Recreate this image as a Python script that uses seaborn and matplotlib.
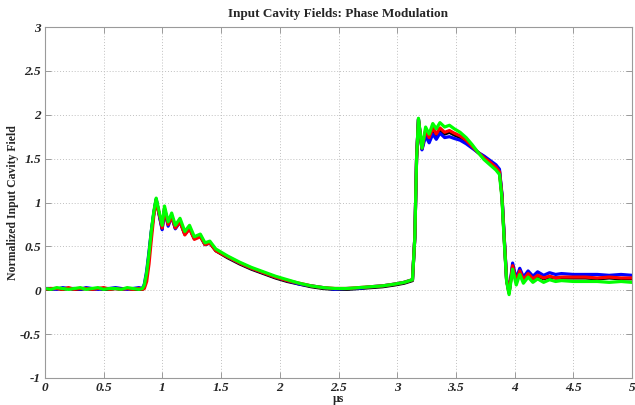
import numpy as np
import pandas as pd
import matplotlib
matplotlib.use("Agg")
import matplotlib.pyplot as plt
import seaborn as sns

# time axis (µs)
t = [0.00, 0.05, 0.10, 0.15, 0.20, 0.25, 0.30, 0.35, 0.40, 0.45, 0.50, 0.55, 0.60, 0.65, 0.70, 0.75, 0.80, 0.83,
     0.846, 0.866, 0.886, 0.906, 0.927, 0.947, 0.978, 0.998, 1.018, 1.049, 1.079, 1.110, 1.150, 1.191, 1.231, 1.272,
     1.323, 1.363, 1.404, 1.455,
     1.556, 1.658, 1.759, 1.861, 1.963, 2.064, 2.166, 2.267, 2.369, 2.470, 2.572, 2.673, 2.775, 2.876, 2.978, 3.059, 3.130,
     3.150, 3.165, 3.181, 3.211, 3.242, 3.272, 3.303, 3.333, 3.364, 3.404, 3.445, 3.486, 3.536, 3.587, 3.638, 3.689,
     3.739, 3.790, 3.841, 3.871,
     3.892, 3.912, 3.932, 3.953, 3.983, 4.014, 4.044, 4.075, 4.115, 4.156, 4.196, 4.247, 4.298, 4.349, 4.399, 4.501,
     4.603, 4.704, 4.806, 4.907, 5.00]

black = [0.01, 0.01, 0.02, 0.01, 0.02, 0.01, 0.01, 0.02, 0.01, 0.02, 0.01, 0.01, 0.02, 0.01, 0.02, 0.01, 0.01, 0.01,
         0.04, 0.18, 0.40, 0.66, 0.88, 1.03, 0.83, 0.70, 0.93, 0.75, 0.85, 0.71, 0.79, 0.64, 0.71, 0.59, 0.62, 0.52, 0.54, 0.45,
         0.37, 0.30, 0.24, 0.19, 0.14, 0.10, 0.07, 0.04, 0.02, 0.01, 0.01, 0.02, 0.03, 0.04, 0.06, 0.08, 0.11,
         0.60, 1.50, 1.95, 1.61, 1.80, 1.72, 1.83, 1.76, 1.83, 1.78, 1.80, 1.77, 1.74, 1.69, 1.63, 1.57, 1.52, 1.47, 1.41, 1.36,
         1.08, 0.58, 0.11, -0.03, 0.27, 0.10, 0.21, 0.12, 0.18, 0.13, 0.16, 0.13, 0.15, 0.14, 0.14, 0.14, 0.14, 0.13, 0.14, 0.13, 0.13]

blue = [0.02, 0.02, 0.01, 0.03, 0.02, 0.02, 0.01, 0.03, 0.02, 0.01, 0.02, 0.02, 0.03, 0.02, 0.01, 0.02, 0.03, 0.02,
        0.07, 0.22, 0.44, 0.68, 0.88, 1.04, 0.82, 0.69, 0.92, 0.73, 0.84, 0.70, 0.78, 0.64, 0.71, 0.59, 0.62, 0.52, 0.54, 0.46,
        0.38, 0.31, 0.25, 0.20, 0.15, 0.11, 0.07, 0.05, 0.03, 0.01, 0.02, 0.02, 0.04, 0.05, 0.07, 0.09, 0.12,
        0.60, 1.50, 1.95, 1.60, 1.76, 1.68, 1.78, 1.72, 1.79, 1.74, 1.75, 1.73, 1.71, 1.67, 1.62, 1.57, 1.53, 1.48, 1.43, 1.38,
        1.10, 0.60, 0.12, -0.02, 0.31, 0.13, 0.25, 0.15, 0.22, 0.16, 0.21, 0.17, 0.20, 0.18, 0.19, 0.18, 0.18, 0.18, 0.17, 0.18, 0.17]

red = [0.01, 0.02, 0.02, 0.01, 0.03, 0.01, 0.02, 0.02, 0.01, 0.02, 0.03, 0.01, 0.02, 0.01, 0.02, 0.01, 0.02, 0.01,
       0.02, 0.10, 0.30, 0.58, 0.85, 1.02, 0.84, 0.71, 0.92, 0.75, 0.84, 0.71, 0.78, 0.63, 0.70, 0.58, 0.61, 0.52, 0.54, 0.45,
       0.38, 0.31, 0.25, 0.20, 0.15, 0.11, 0.08, 0.05, 0.03, 0.02, 0.02, 0.03, 0.04, 0.05, 0.07, 0.09, 0.12,
       0.60, 1.50, 1.94, 1.62, 1.82, 1.74, 1.85, 1.78, 1.85, 1.80, 1.82, 1.79, 1.76, 1.71, 1.64, 1.57, 1.51, 1.46, 1.40, 1.35,
       1.08, 0.58, 0.12, -0.03, 0.28, 0.10, 0.22, 0.12, 0.19, 0.13, 0.17, 0.14, 0.16, 0.14, 0.15, 0.15, 0.15, 0.14, 0.15, 0.14, 0.14]

green = [0.02, 0.01, 0.03, 0.02, 0.01, 0.02, 0.03, 0.01, 0.02, 0.03, 0.01, 0.02, 0.02, 0.01, 0.03, 0.02, 0.01, 0.02,
         0.06, 0.20, 0.42, 0.68, 0.90, 1.05, 0.86, 0.74, 0.96, 0.78, 0.88, 0.74, 0.82, 0.67, 0.74, 0.61, 0.64, 0.54, 0.56, 0.47,
         0.39, 0.32, 0.26, 0.21, 0.16, 0.12, 0.08, 0.05, 0.03, 0.02, 0.02, 0.03, 0.04, 0.05, 0.07, 0.09, 0.12,
         0.60, 1.50, 1.96, 1.62, 1.86, 1.78, 1.90, 1.84, 1.91, 1.86, 1.88, 1.84, 1.80, 1.74, 1.66, 1.57, 1.49, 1.43, 1.37, 1.32,
         1.05, 0.55, 0.10, -0.05, 0.24, 0.06, 0.18, 0.08, 0.15, 0.09, 0.13, 0.09, 0.12, 0.10, 0.11, 0.10, 0.10, 0.10, 0.09, 0.10, 0.09]

traces = ["black", "blue", "red", "green"]
colors = {"black": "#000000", "blue": "#0000ff", "red": "#ff0000", "green": "#00ff00"}

xticks = [0, 0.5, 1, 1.5, 2, 2.5, 3, 3.5, 4, 4.5, 5]
xticklabels = ["0", "0.5", "1", "1.5", "2", "2.5", "3", "3.5", "4", "4.5", "5"]
yticks = [-1, -0.5, 0, 0.5, 1, 1.5, 2, 2.5, 3]
yticklabels = ["-1", "-0.5", "0", "0.5", "1", "1.5", "2", "2.5", "3"]

df = pd.concat([
    pd.DataFrame({"t": t, "v": vals, "trace": name})
    for name, vals in zip(traces, [black, blue, red, green])
], ignore_index=True)

sns.set_theme(style="white")
plt.rcParams["font.family"] = ["Liberation Serif", "DejaVu Serif"]

fig = plt.figure(figsize=(6.35, 4.05), dpi=100)
ax = fig.add_axes([45 / 635, 27 / 405, 587 / 635, 351 / 405])

sns.lineplot(data=df, x="t", y="v", hue="trace", hue_order=traces, palette=colors,
             estimator=None, sort=False, legend=False, linewidth=2.3, ax=ax)

ax.set_xlim(0, 5)
ax.set_ylim(-1, 3)
ax.set_xticks(xticks)
ax.set_xticklabels(xticklabels)
ax.set_yticks(yticks)
ax.set_yticklabels(yticklabels)

for lab in ax.get_xticklabels() + ax.get_yticklabels():
    lab.set_fontweight("bold")
    lab.set_fontstyle("italic")
    lab.set_fontsize(9.5)

ax.grid(True, color="#c0c0c0", linestyle=(0, (1, 2)), linewidth=0.7)
ax.set_axisbelow(True)
for s in ax.spines.values():
    s.set_color("#9a9a9a")
    s.set_linewidth(0.8)
ax.tick_params(axis="both", which="both", direction="in", length=4, width=0.7,
               color="#9a9a9a", top=True, right=True, bottom=True, left=True, pad=3)

ax.set_title("Input Cavity Fields: Phase Modulation", fontsize=9.5, fontweight="bold", pad=7)
ax.set_xlabel("")
ax.set_ylabel("")
fig.text(338 / 635, 1 - 399 / 405, "µs", fontsize=8.5, fontweight="bold", ha="center", va="center")
fig.text(13 / 635, 1 - 203 / 405, "Normalized Input Cavity Field", fontsize=8.5, fontweight="bold",
         rotation=90, ha="center", va="center")

fig.savefig("out.png", dpi=100)
